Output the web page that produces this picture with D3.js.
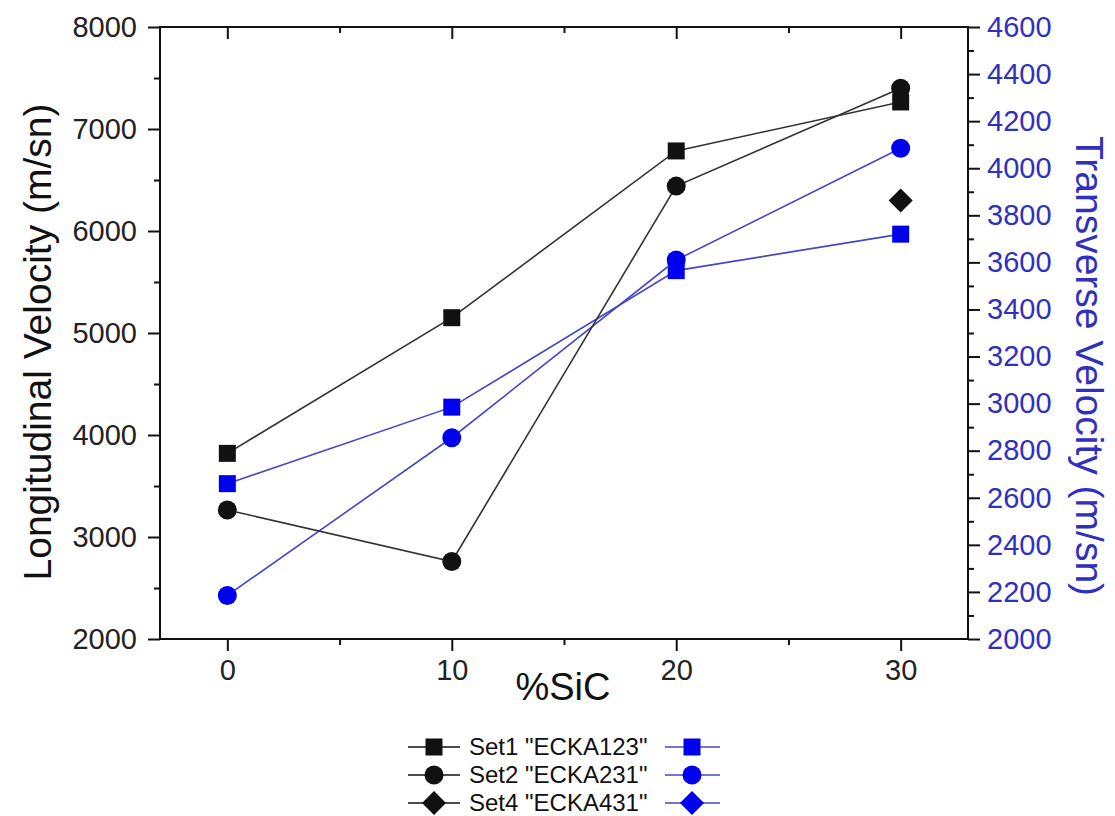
<!DOCTYPE html>
<html>
<head>
<meta charset="utf-8">
<script src="https://cdn.jsdelivr.net/npm/d3@7"></script>
<style>
  body { margin: 0; background: #fff; }
  text { font-family: "Liberation Sans", Arial, sans-serif; }
</style>
</head>
<body>
<div id="vis"></div>
<script>
// chart values
var sic = [0, 10, 20, 30];
var set1Long = [3820, 5150, 6785, 7265];
var set2Long = [3265, 2760, 6440, 7400];
var set4Sic = [30];
var set4Long = [6300];
var set1Trans = [2660, 2985, 3565, 3720];
var set2Trans = [2185, 2855, 3610, 4085];

var legendLabels = ['Set1 "ECKA123"', 'Set2 "ECKA231"', 'Set4 "ECKA431"'];
var legendShapes = ['square', 'circle', 'diamond'];

var width = 1115;
var height = 816;

var margin = { top: 27, bottom: 177, left: 160, right: 147 };

var black = '#111';
var blue = '#0000f0';
var blueLine = '#4646c8';
var blueText = '#3030c0';

var svg = d3.select('#vis')
    .append('svg')
    .attr('width', width)
    .attr('height', height);

var x0 = margin.left, x1 = width - margin.right;
var y0 = margin.top, y1 = height - margin.bottom;

var x_scale = d3.scaleLinear().domain([-3, 33]).range([x0, x1]);
var yl_scale = d3.scaleLinear().domain([2000, 8000]).range([y1, y0]);
var yr_scale = d3.scaleLinear().domain([2000, 4600]).range([y1, y0]);

var fmt = d3.format('d');

function styleAxis(g, colour) {
    g.select('.domain').remove();
    g.selectAll('line').attr('stroke', black).attr('stroke-width', 2);
    g.selectAll('text')
        .attr('font-size', 29)
        .attr('font-family', '"Liberation Sans", Arial, sans-serif')
        .attr('fill', colour);
}

// bottom axis
svg.append('g').attr('transform', 'translate(0,' + y1 + ')')
    .call(d3.axisBottom(x_scale).tickValues([0, 10, 20, 30]).tickSize(12).tickPadding(8).tickFormat(fmt))
    .call(styleAxis, '#222');
svg.append('g').attr('transform', 'translate(0,' + y1 + ')')
    .call(d3.axisBottom(x_scale).tickValues([5, 15, 25]).tickSize(6).tickFormat(''))
    .call(styleAxis, black);

// top axis, ticks inward
svg.append('g').attr('transform', 'translate(0,' + y0 + ')')
    .call(d3.axisBottom(x_scale).tickValues([0, 10, 20, 30]).tickSize(12).tickFormat(''))
    .call(styleAxis, black);
svg.append('g').attr('transform', 'translate(0,' + y0 + ')')
    .call(d3.axisBottom(x_scale).tickValues([5, 15, 25]).tickSize(6).tickFormat(''))
    .call(styleAxis, black);

// left axis
svg.append('g').attr('transform', 'translate(' + x0 + ',0)')
    .call(d3.axisLeft(yl_scale).tickValues(d3.range(2000, 8001, 1000)).tickSize(12).tickPadding(11).tickFormat(fmt))
    .call(styleAxis, '#222');
svg.append('g').attr('transform', 'translate(' + x0 + ',0)')
    .call(d3.axisLeft(yl_scale).tickValues(d3.range(2500, 8000, 1000)).tickSize(6).tickFormat(''))
    .call(styleAxis, black);

// right axis
svg.append('g').attr('transform', 'translate(' + x1 + ',0)')
    .call(d3.axisRight(yr_scale).tickValues(d3.range(2000, 4601, 200)).tickSize(12).tickPadding(7).tickFormat(fmt))
    .call(styleAxis, blueText);
svg.append('g').attr('transform', 'translate(' + x1 + ',0)')
    .call(d3.axisRight(yr_scale).tickValues(d3.range(2100, 4600, 200)).tickSize(6).tickFormat(''))
    .call(styleAxis, black);

// frame
svg.append('rect')
    .attr('x', x0).attr('y', y0)
    .attr('width', x1 - x0).attr('height', y1 - y0)
    .attr('fill', 'none').attr('stroke', black).attr('stroke-width', 2);

// axis titles
svg.append('text')
    .attr('text-anchor', 'middle')
    .attr('transform', 'translate(51,342) rotate(-90)')
    .attr('font-size', 39)
    .attr('fill', '#111')
    .text('Longitudinal Velocity (m/sn)');

svg.append('text')
    .attr('text-anchor', 'middle')
    .attr('transform', 'translate(1076,366) rotate(90)')
    .attr('font-size', 39)
    .attr('fill', blueText)
    .text('Transverse Velocity (m/sn)');

svg.append('text')
    .attr('text-anchor', 'middle')
    .attr('x', 563)
    .attr('y', 700)
    .attr('font-size', 38)
    .attr('fill', '#111')
    .text('%SiC');

function symbolPath(shape) {
    if (shape === 'square') return d3.symbol(d3.symbolSquare, 17 * 17)();
    if (shape === 'circle') return d3.symbol(d3.symbolCircle, Math.PI * 9.5 * 9.5)();
    return d3.symbol(d3.symbolSquare, 17 * 17)();
}
function symbolRot(shape) {
    return shape === 'diamond' ? ' rotate(45)' : '';
}

function drawSeries(xs, ys, yScale, lineColour, markColour, shape, withLine) {
    var pts = xs.map(function(d, i) { return [d, ys[i]]; });
    if (withLine) {
        var line = d3.line()
            .x(function(d) { return x_scale(d[0]); })
            .y(function(d) { return yScale(d[1]); });
        svg.append('path')
            .datum(pts)
            .attr('d', line)
            .attr('fill', 'none')
            .attr('stroke', lineColour)
            .attr('stroke-width', 1.6);
    }
    svg.append('g').selectAll('path')
        .data(pts)
        .enter()
        .append('path')
        .attr('d', symbolPath(shape))
        .attr('transform', function(d) {
            return 'translate(' + x_scale(d[0]) + ',' + yScale(d[1]) + ')' + symbolRot(shape);
        })
        .attr('fill', markColour);
}

drawSeries(sic, set1Trans, yr_scale, blueLine, blue, 'square', true);
drawSeries(sic, set2Trans, yr_scale, blueLine, blue, 'circle', true);
drawSeries(sic, set1Long, yl_scale, '#333', black, 'square', true);
drawSeries(sic, set2Long, yl_scale, '#333', black, 'circle', true);
drawSeries(set4Sic, set4Long, yl_scale, '#333', black, 'diamond', false);

// legend
var legend = svg.append('g');
legendLabels.forEach(function(label, i) {
    var y = 747 + i * 28;
    var shape = legendShapes[i];
    legend.append('line')
        .attr('x1', 408).attr('x2', 460).attr('y1', y).attr('y2', y)
        .attr('stroke', black).attr('stroke-width', 1.6);
    legend.append('path')
        .attr('d', symbolPath(shape))
        .attr('transform', 'translate(434,' + y + ')' + symbolRot(shape))
        .attr('fill', black);
    legend.append('text')
        .attr('x', 469).attr('y', y + 8)
        .attr('font-size', 24)
        .attr('fill', '#111')
        .text(label);
    legend.append('line')
        .attr('x1', 665).attr('x2', 720).attr('y1', y).attr('y2', y)
        .attr('stroke', blueLine).attr('stroke-width', 1.6);
    legend.append('path')
        .attr('d', symbolPath(shape))
        .attr('transform', 'translate(692,' + y + ')' + symbolRot(shape))
        .attr('fill', blue);
});
</script>
</body>
</html>
